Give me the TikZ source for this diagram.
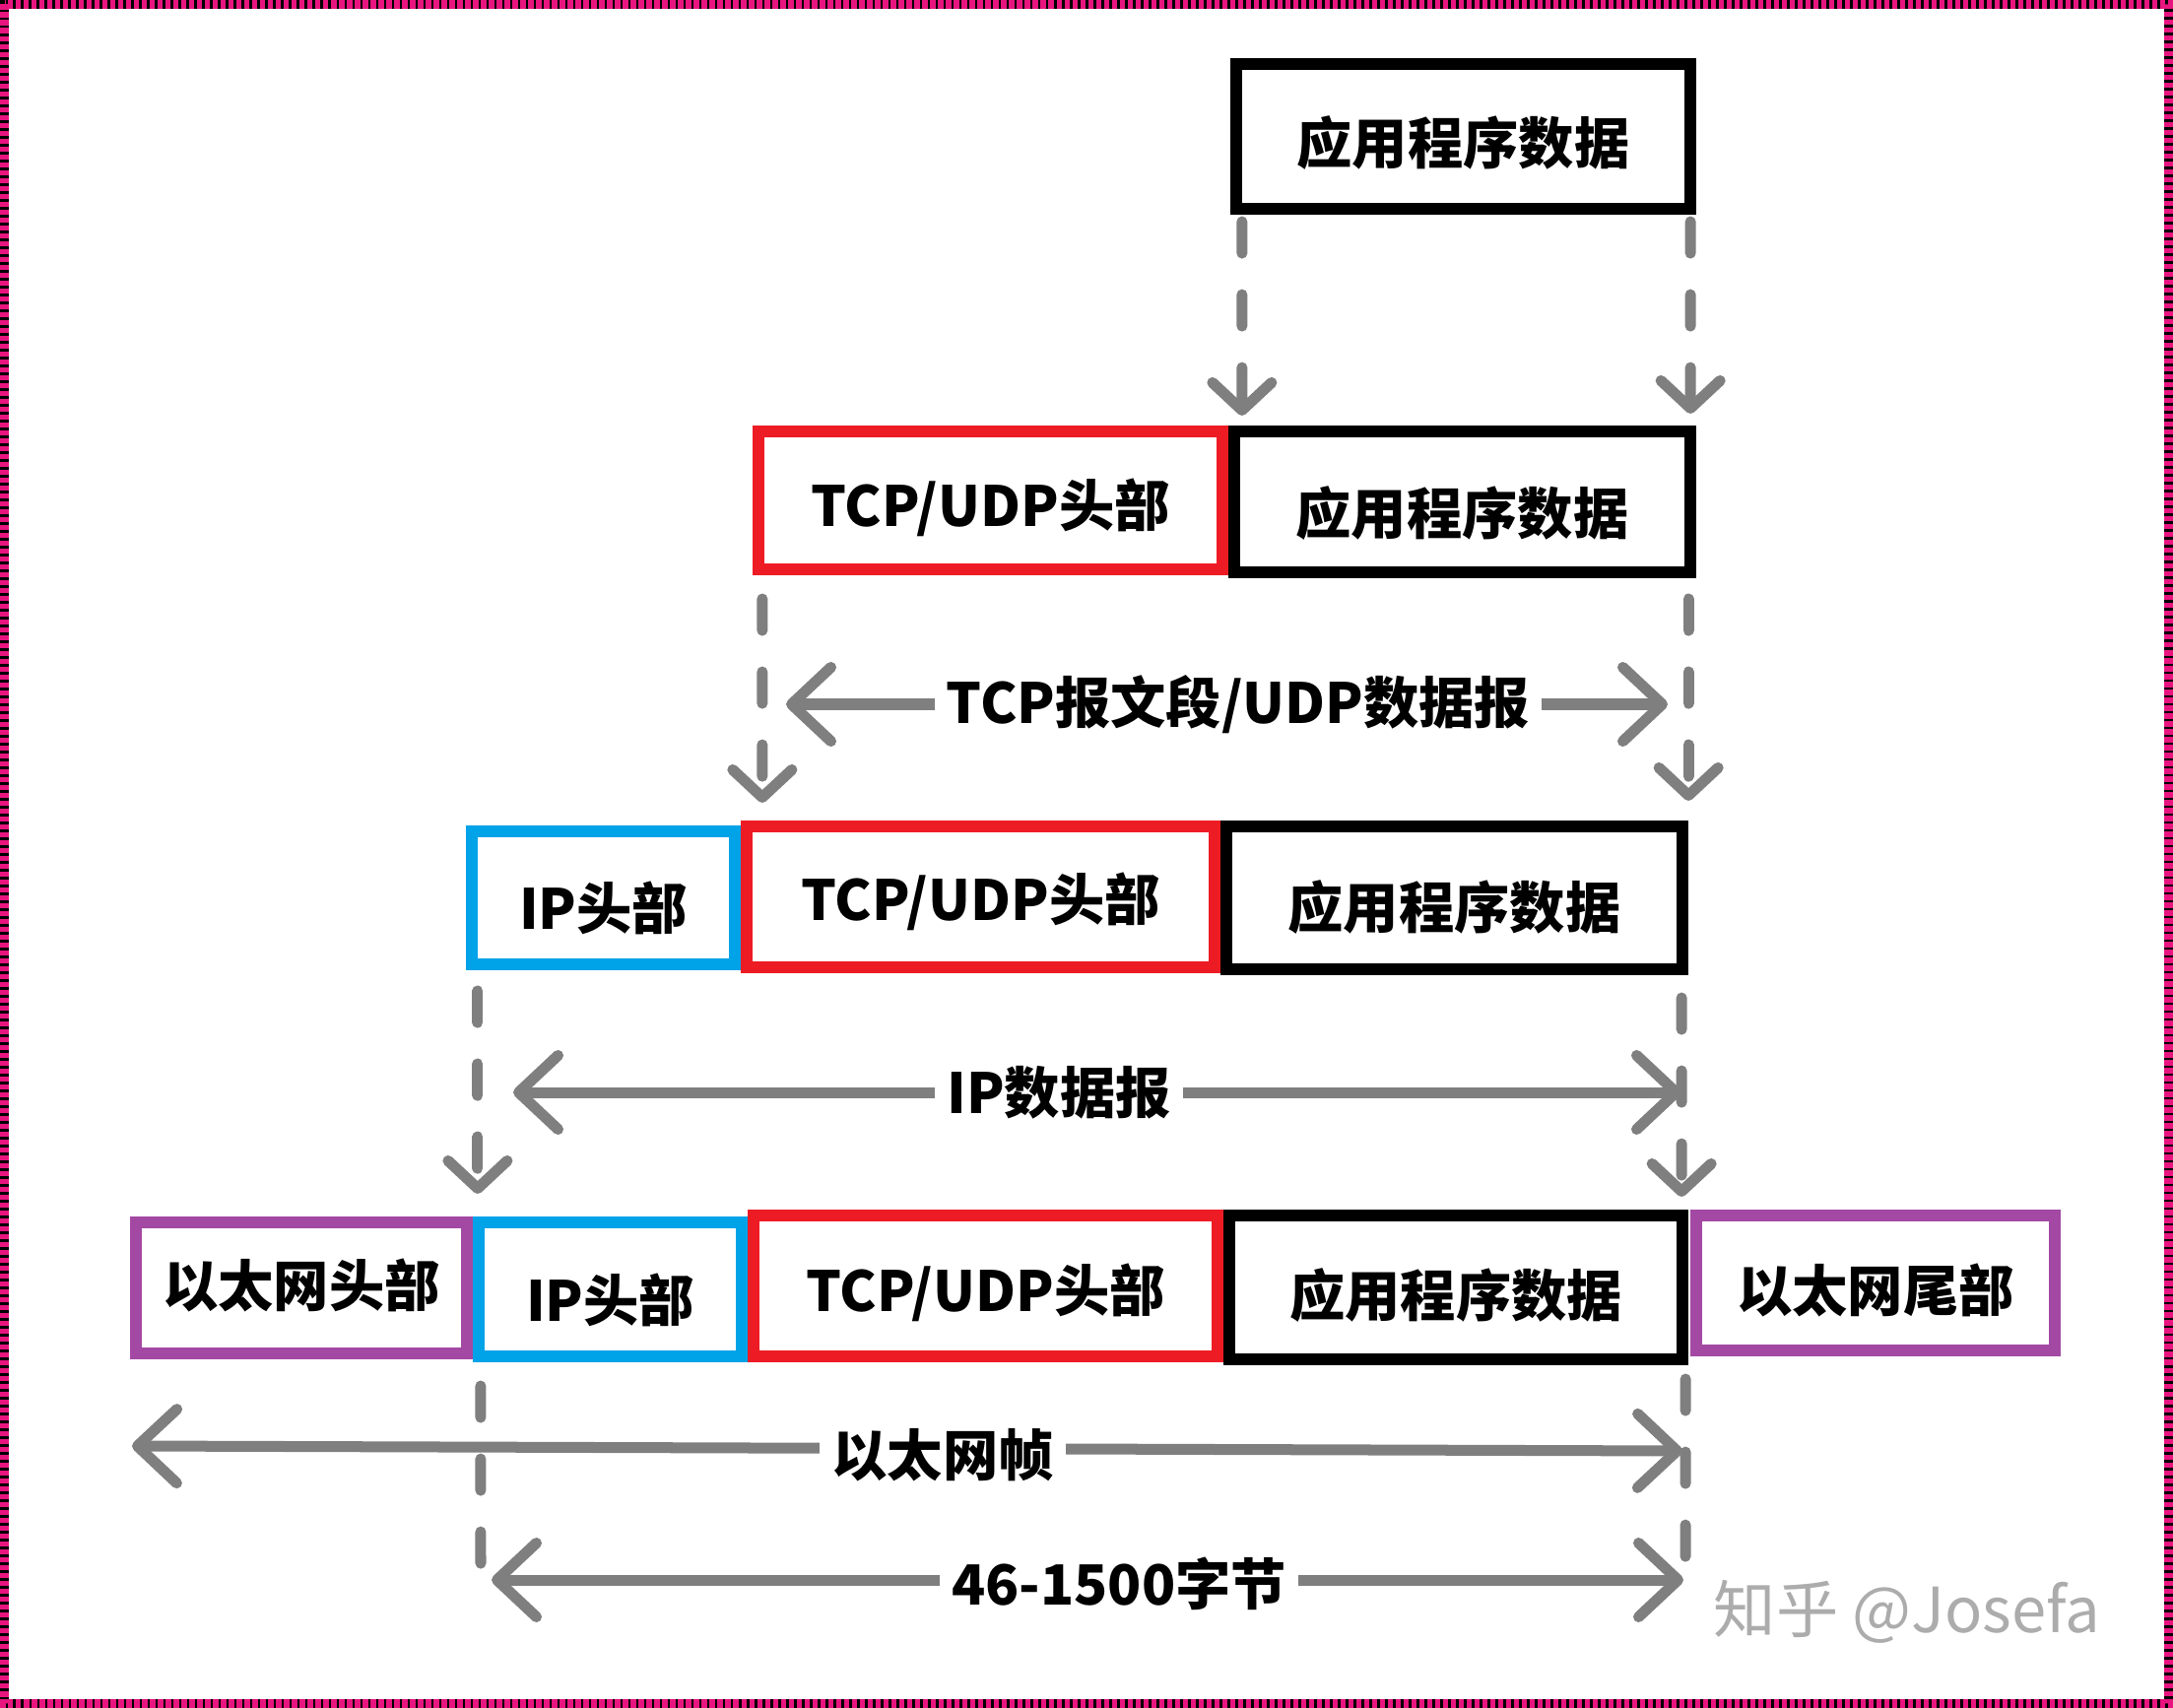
\documentclass[tikz,border=0pt]{standalone}
\usepackage{fontspec}
\setmainfont{Noto Sans CJK SC}
\usetikzlibrary{arrows.meta,calc}
\definecolor{pkred}{RGB}{237,28,36}
\definecolor{pkblue}{RGB}{0,162,232}
\definecolor{pkpurple}{RGB}{163,73,164}
\definecolor{pkgray}{RGB}{127,127,127}
\definecolor{pkpink}{RGB}{232,21,127}
\definecolor{wmgray}{RGB}{172,172,172}
\newlength\pxunit
\setlength\pxunit{0.01cm}
\newcommand\lowtxt[2][6]{\raisebox{-#1\pxunit}[\height][\depth]{#2}}
\tikzset{
  box/.style={draw=#1, line width=0.12cm, fill=white, inner sep=0pt,
    font=\bfseries\fontsize{16pt}{19pt}\selectfont},
  dconn/.style={draw=pkgray, line width=0.11cm, line cap=round,
    dash pattern=on 0.32cm off 0.42cm,
    -{Straight Barb[length=0.28cm,width=0.6cm,round]}},
  dline/.style={draw=pkgray, line width=0.11cm, line cap=round,
    dash pattern=on 0.32cm off 0.42cm},
  hconn/.style={draw=pkgray, line width=0.11cm, line cap=round,
    {Straight Barb[length=0.4cm,width=0.75cm,round]}-{Straight Barb[length=0.4cm,width=0.75cm,round]}},
  lbl/.style={fill=white, inner xsep=0.12cm, inner ysep=0pt,
    font=\bfseries\fontsize{16pt}{19pt}\selectfont},
  wm/.style={text=wmgray, inner sep=0pt, font=\fontsize{18pt}{21pt}\selectfont},
}
\begin{document}
\begin{tikzpicture}[x=0.01cm,y=-0.01cm]
\useasboundingbox (0,0) rectangle (2206,1734);
% frame
\draw[black, line width=0.09cm] (4.5,4.5) rectangle (2201.5,1729.5);
\draw[pkpink, line width=0.09cm, dash pattern=on 0.053cm off 0.027cm] (4.5,4.5) rectangle (2201.5,1729.5);

% row 1
\node[box=black, minimum width=4.61cm, minimum height=1.47cm] (A1) at (1485.5,138.5) {\lowtxt[7]{应用程序数据}};
% row 2
\node[box=pkred, minimum width=4.71cm, minimum height=1.40cm] (T2) at (1005.5,508) {\lowtxt[7]{TCP/UDP头部}};
\node[box=black, minimum width=4.63cm, minimum height=1.43cm] (A2) at (1484.5,509.5) {\lowtxt[12]{应用程序数据}};
% row 3
\node[box=pkblue, minimum width=2.67cm, minimum height=1.35cm] (I3) at (612.5,911.5) {\lowtxt[10]{IP头部}};
\node[box=pkred, minimum width=4.75cm, minimum height=1.43cm] (T3) at (995.5,910.5) {\lowtxt[5]{TCP/UDP头部}};
\node[box=black, minimum width=4.63cm, minimum height=1.45cm] (A3) at (1476.5,911.5) {\lowtxt[10]{应用程序数据}};
% row 4
\node[box=pkpurple, minimum width=3.36cm, minimum height=1.33cm] (E4) at (306,1307.5) {\lowtxt[-3]{以太网头部}};
\node[box=pkblue, minimum width=2.67cm, minimum height=1.36cm] (I4) at (619.5,1309) {\lowtxt[11]{IP头部}};
\node[box=pkred, minimum width=4.71cm, minimum height=1.43cm] (T4) at (1000.5,1305.5) {\lowtxt[7]{TCP/UDP头部}};
\node[box=black, minimum width=4.60cm, minimum height=1.46cm] (A4) at (1478,1307) {\lowtxt[8]{应用程序数据}};
\node[box=pkpurple, minimum width=3.64cm, minimum height=1.37cm] (F4) at (1904,1302.5) {\lowtxt[7]{以太网尾部}};

% dashed down connectors
\draw[dconn] ($(A1.south west)+(12,7)$) -- ($(A2.north west)+(14,-10)$);
\draw[dconn] ($(A1.south east)+(-6,7)$) -- ($(A2.north east)+(-6,-12)$);
\draw[dconn] ($(T2.south west)+(10,24)$) -- ($(T3.north west)+(22,-18)$);
\draw[dconn] ($(A2.south east)+(-8,21)$) -- ($(A3.north east)+(0,-20)$);
\draw[dconn] ($(I3.south west)+(12,21)$) -- ($(I4.north west)+(5,-23)$);
\draw[dconn] ($(A3.south east)+(-7,23)$) -- ($(A4.north east)+(-7,-13)$);

% horizontal span coordinates
\coordinate (h1l) at (798,715);  \coordinate (h1r) at (1693,715);
\coordinate (h2l) at (521,1109); \coordinate (h2r) at (1707,1109);
\coordinate (h3l) at (134,1468); \coordinate (h3r) at (1708,1473);
\coordinate (h4l) at (499,1604); \coordinate (h4r) at (1709,1604);
\coordinate (v4l) at (488,1604); \coordinate (v4r) at (1711,1611);

\draw[dline] ($(I4.south west)+(8,24)$) -- (v4l);
\draw[dline] ($(A4.south east)+(-3,14)$) -- (v4r);

\draw[hconn] (h1l) -- (h1r);
\draw[hconn] (h2l) -- (h2r);
\draw[hconn] (h3l) -- (h3r);
\draw[hconn] (h4l) -- (h4r);

\node[lbl] (L1) at (1257,715) {TCP报文段/UDP数据报};
\node[lbl] (L2) at (1075,1109) {IP数据报};
\node[lbl] (L3) at (957,1477) {以太网帧};
\node[lbl] (L4) at (1136,1608) {46-1500字节};

\node[wm] (wm) at (1936,1636) {知乎 @Josefa};
\end{tikzpicture}
\end{document}
